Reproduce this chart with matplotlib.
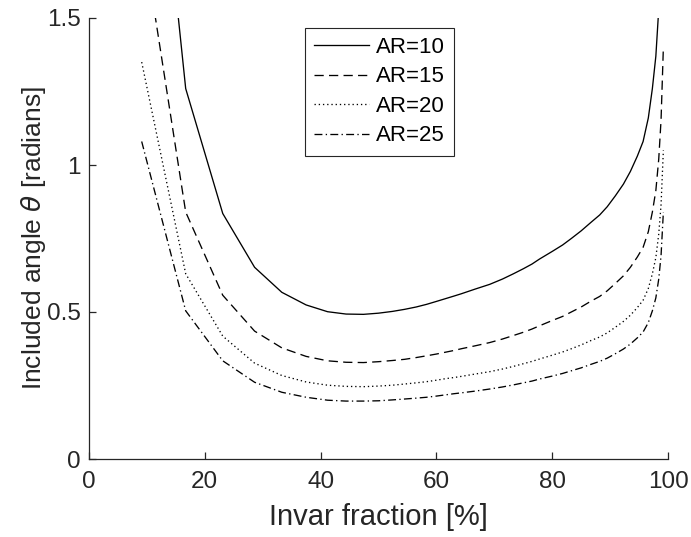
import matplotlib
matplotlib.use("Agg")
import matplotlib.pyplot as plt

plt.rcParams['font.family'] = ['Liberation Sans', 'DejaVu Sans']
plt.rcParams['mathtext.fontset'] = 'dejavusans'

invar_fraction = [9.1, 16.7, 23.1, 28.6, 33.3, 37.5, 41.2, 44.4, 47.4, 50.0,
                  52.4, 54.5, 56.5, 58.3, 60.0, 61.5, 63.0, 64.3, 65.5, 66.7,
                  69.2, 71.4, 73.3, 75.0, 76.5, 77.8, 80.0, 81.8, 83.3, 85.0,
                  86.7, 88.2, 89.5, 90.9, 92.3, 93.5, 94.7, 95.7, 96.6, 97.3,
                  97.9, 98.4, 98.8, 99.2]

ar10 = [2.70, 1.26, 0.835, 0.652, 0.567, 0.524, 0.501, 0.493, 0.492, 0.496,
        0.502, 0.509, 0.517, 0.526, 0.536, 0.545, 0.554, 0.562, 0.570, 0.578,
        0.594, 0.612, 0.630, 0.647, 0.663, 0.680, 0.706, 0.728, 0.750, 0.776,
        0.805, 0.830, 0.858, 0.895, 0.935, 0.978, 1.03, 1.08, 1.16, 1.26,
        1.37, 1.53, 1.73, 2.10]

ar15 = [1.80, 0.840, 0.557, 0.435, 0.378, 0.349, 0.334, 0.329, 0.328, 0.331,
        0.335, 0.339, 0.345, 0.351, 0.357, 0.363, 0.369, 0.375, 0.380, 0.385,
        0.396, 0.408, 0.420, 0.431, 0.442, 0.453, 0.471, 0.485, 0.500, 0.517,
        0.537, 0.553, 0.572, 0.597, 0.623, 0.652, 0.687, 0.720, 0.773, 0.840,
        0.913, 1.020, 1.153, 1.400]

ar20 = [1.35, 0.630, 0.418, 0.326, 0.284, 0.262, 0.251, 0.247, 0.246, 0.248,
        0.251, 0.255, 0.259, 0.263, 0.268, 0.273, 0.277, 0.281, 0.285, 0.289,
        0.297, 0.306, 0.315, 0.324, 0.332, 0.340, 0.353, 0.364, 0.375, 0.388,
        0.403, 0.415, 0.429, 0.448, 0.468, 0.489, 0.515, 0.540, 0.580, 0.630,
        0.685, 0.765, 0.865, 1.050]

ar25 = [1.08, 0.504, 0.334, 0.261, 0.227, 0.210, 0.200, 0.197, 0.197, 0.198,
        0.201, 0.204, 0.207, 0.210, 0.214, 0.218, 0.222, 0.225, 0.228, 0.231,
        0.238, 0.245, 0.252, 0.259, 0.265, 0.272, 0.282, 0.291, 0.300, 0.310,
        0.322, 0.332, 0.343, 0.358, 0.374, 0.391, 0.412, 0.432, 0.464, 0.504,
        0.548, 0.612, 0.692, 0.840]

labels = ['AR=10', 'AR=15', 'AR=20', 'AR=25']
x_ticks = [0, 20, 40, 60, 80, 100]
y_ticks = [0, 0.5, 1, 1.5]
y_ticklabels = ['0', '0.5', '1', '1.5']

fig = plt.figure(figsize=(6.91, 5.37), dpi=100)
ax = fig.add_axes([89/691, 1 - 459/537, (668-89)/691, (459-18)/537])

lw = 0.95
ax.plot(invar_fraction, ar10, color='black', lw=lw, linestyle='-', label=labels[0])
ax.plot(invar_fraction, ar15, color='black', lw=lw, linestyle=(0, (7, 4)), label=labels[1])
ax.plot(invar_fraction, ar20, color='black', lw=lw, linestyle=(0, (1, 2.2)), label=labels[2])
ax.plot(invar_fraction, ar25, color='black', lw=lw, linestyle=(0, (6, 2.5, 1, 2.5)), label=labels[3])

ax.set_xlim(0, 100)
ax.set_ylim(0, 1.5)
ax.set_xticks(x_ticks)
ax.set_yticks(y_ticks)
ax.set_yticklabels(y_ticklabels)

for s in ['top', 'right']:
    ax.spines[s].set_visible(False)
for s in ['left', 'bottom']:
    ax.spines[s].set_color('#262626')
    ax.spines[s].set_linewidth(0.9)

ax.tick_params(direction='in', length=5, width=0.9, colors='#262626',
               labelsize=17.5, labelcolor='#262626')
ax.tick_params(axis='x', pad=9)
ax.tick_params(axis='y', pad=6)

ax.set_xlabel('Invar fraction [%]', fontsize=21, color='#262626', labelpad=7)
ax.set_ylabel(r'Included angle $\theta$ [radians]', fontsize=19, color='#262626', labelpad=-1)

leg = ax.legend(loc='upper left', bbox_to_anchor=(0.373, 0.978), fontsize=16,
                frameon=True, fancybox=False, edgecolor='#262626', framealpha=1,
                handlelength=2.45, handletextpad=0.32, borderpad=0.42,
                labelspacing=0.38, borderaxespad=0)
leg.get_frame().set_linewidth(0.8)

fig.savefig('out.png', dpi=100)
